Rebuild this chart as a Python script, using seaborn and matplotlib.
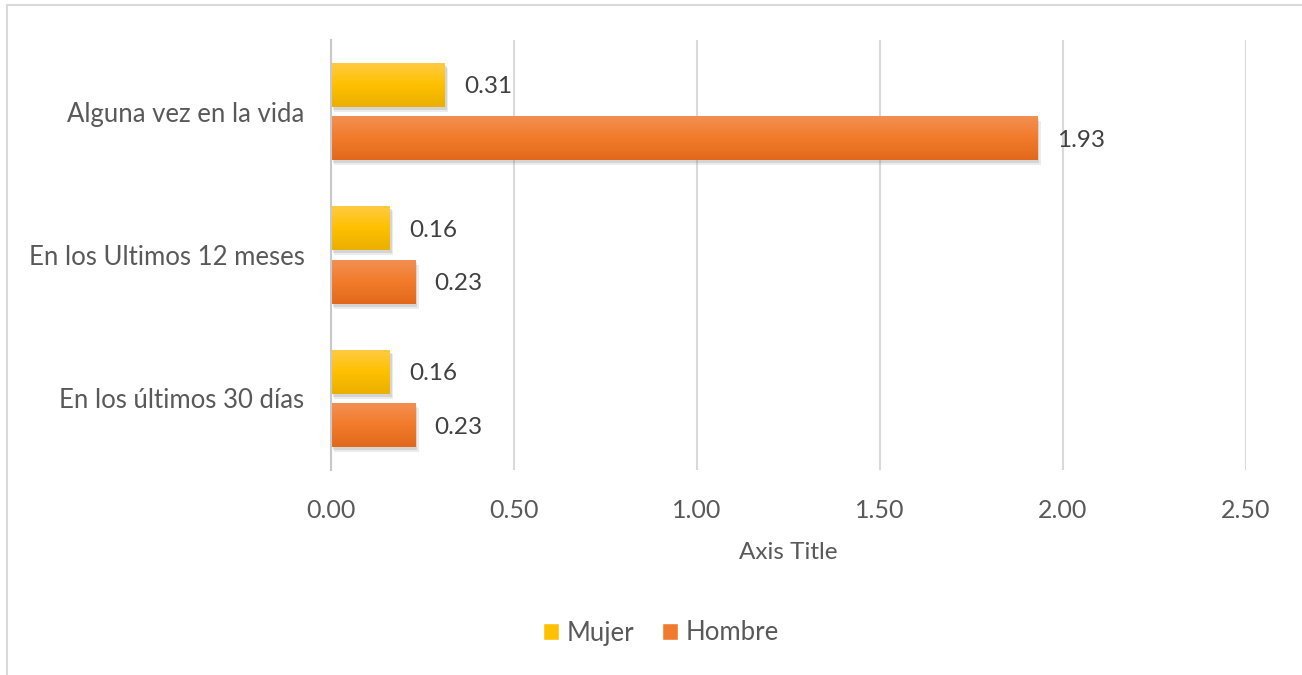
import numpy as np
import pandas as pd
import matplotlib
matplotlib.use("Agg")
import matplotlib.pyplot as plt
import matplotlib.patheffects as pe
from matplotlib.lines import Line2D
from matplotlib.colors import LinearSegmentedColormap
import seaborn as sns

categories = ["Alguna vez en la vida", "En los Ultimos 12 meses", "En los últimos 30 días"]
mujer = [0.31, 0.16, 0.16]
hombre = [1.93, 0.23, 0.23]
series_names = ["Mujer", "Hombre"]
xticks = [0.0, 0.5, 1.0, 1.5, 2.0, 2.5]

df = pd.DataFrame({
    "cat": categories * 2,
    "val": mujer + hombre,
    "serie": [series_names[0]] * 3 + [series_names[1]] * 3,
})

sns.set_theme(style="white")
plt.rcParams["font.family"] = ["Lato", "DejaVu Sans"]
TXT = "#595959"

fig = plt.figure(figsize=(13.02, 6.75), dpi=100)
ax = fig.add_axes([331 / 1302, 1 - 470 / 675, (1246 - 331) / 1302, 430 / 675])

colors = {"Mujer": "#FFC000", "Hombre": "#F07B2C"}
sns.barplot(data=df, y="cat", x="val", hue="serie", order=categories,
            hue_order=series_names, palette=colors, orient="h",
            width=0.745, gap=0.175, ax=ax, legend=False, saturation=1)

grads = {"Mujer": ("#FFCB45", "#FFC000", "#EAB000"),
         "Hombre": ("#F39055", "#F27B2A", "#E2691C")}
for cont, name in zip(ax.containers, series_names):
    cmap = LinearSegmentedColormap.from_list(name, list(grads[name]))
    for p in cont:
        p.set_edgecolor("none")
        p.set_path_effects([
            pe.SimplePatchShadow(offset=(2.5, -3.5), shadow_rgbFace="#9a9a9a", alpha=0.18),
            pe.SimplePatchShadow(offset=(1.5, -2.2), shadow_rgbFace="#7f7f7f", alpha=0.22),
            pe.Normal()])
        x0, y0 = p.get_x(), p.get_y()
        w, h = p.get_width(), p.get_height()
        grad = np.linspace(0, 1, 64).reshape(-1, 1)
        im = ax.imshow(grad, cmap=cmap, aspect="auto",
                       extent=[x0, x0 + w, y0 + h, y0], origin="upper",
                       zorder=p.get_zorder() + 0.1)
        im.set_clip_path(p)
    labels = ax.bar_label(cont, fmt="%.2f", padding=14, fontsize=17.5, color="#404040")
    for t in labels:
        t.set_va("center_baseline")

ax.set_xlim(0, 2.5)
ax.set_ylim(2.5, -0.5)
ax.set_xticks(xticks)
ax.set_xticklabels([f"{t:.2f}" for t in xticks], fontsize=18, color=TXT)
ax.tick_params(axis="x", length=0, pad=21)
ax.tick_params(axis="y", length=0, pad=19, labelsize=18.5, labelcolor=TXT)
ax.set_ylabel("")
ax.set_xlabel("Axis Title", fontsize=17.5, color=TXT, labelpad=14)
ax.grid(axis="x", color="#D9D9D9", lw=1.5)
ax.grid(axis="y", visible=False)
ax.set_axisbelow(True)
for s in ["top", "right", "bottom"]:
    ax.spines[s].set_visible(False)
ax.spines["left"].set_color("#C8C8C8")
ax.spines["left"].set_linewidth(1.5)

handles = [plt.Rectangle((0, 0), 1, 1, facecolor=colors[n]) for n in series_names]
fig.legend(handles, series_names, loc="center", bbox_to_anchor=(661 / 1302, 1 - 633 / 675),
           ncol=2, frameon=False, fontsize=18.5, labelcolor=TXT,
           handlelength=0.6, handleheight=0.6, handletextpad=0.3, columnspacing=1.1)

fig.add_artist(Line2D([7 / 1302, 7 / 1302], [0, 1 - 5 / 675], color="#D9D9D9", lw=1.5))
fig.add_artist(Line2D([7 / 1302, 1], [1 - 5 / 675, 1 - 5 / 675], color="#D9D9D9", lw=1.5))

fig.savefig("out.png", dpi=100, facecolor="white")
